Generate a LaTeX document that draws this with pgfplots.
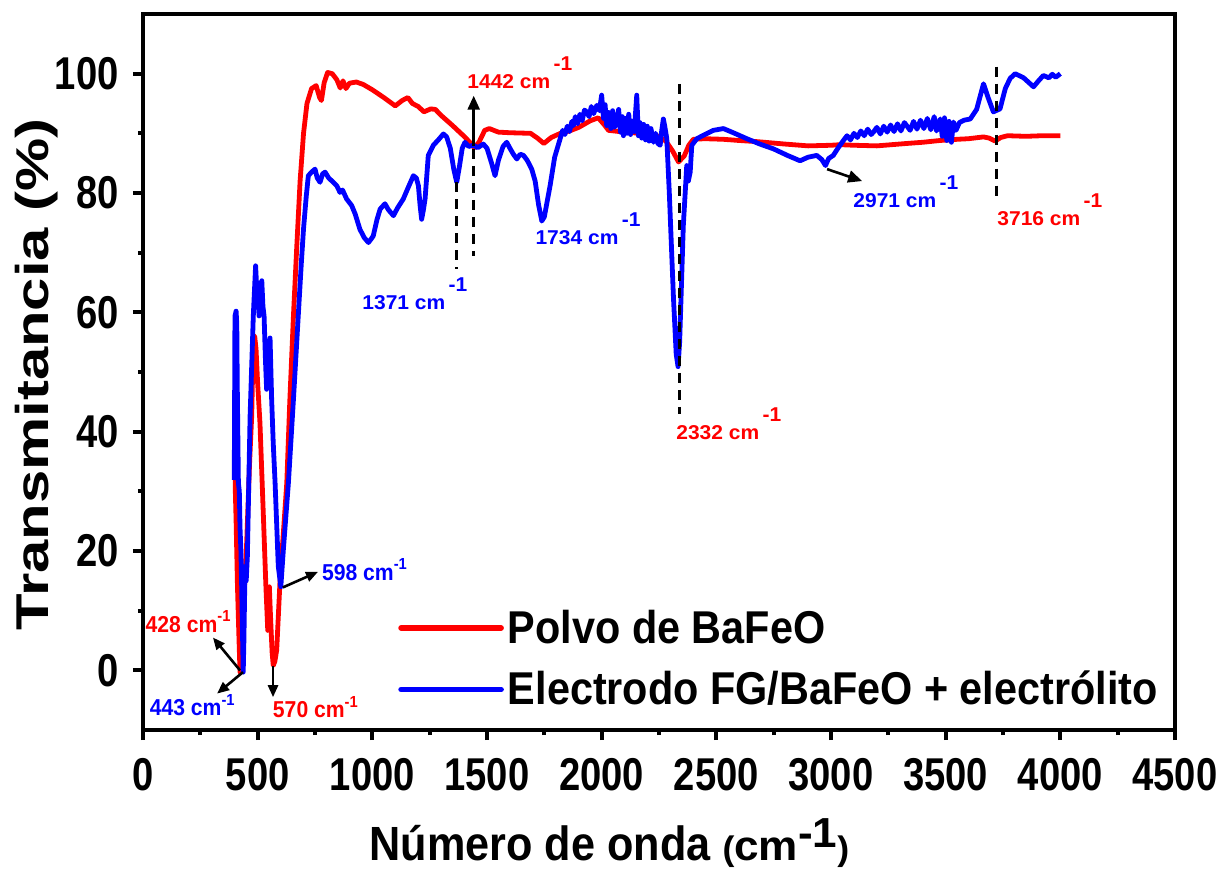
\documentclass[border=0pt]{standalone}
\usepackage{fontspec}
\setmainfont{Liberation Sans}
\newfontfamily\tickf{Liberation Sans}[FakeStretch=0.83]
\newfontfamily\ylabf{Liberation Sans}[FakeStretch=1.3]
\newfontfamily\xlabf{Liberation Sans}[FakeStretch=0.9]
\newfontfamily\xlabw{Liberation Sans}[FakeStretch=1.05]
\newfontfamily\legf{Liberation Sans}[FakeStretch=0.9]
\newfontfamily\annU{Liberation Sans}[FakeStretch=1.05]
\newfontfamily\annL{Liberation Sans}[FakeStretch=0.92]
\usepackage{pgfplots}
\pgfplotsset{compat=1.18}
\usetikzlibrary{arrows.meta}
\definecolor{cred}{RGB}{255,0,0}
\definecolor{cblue}{RGB}{0,0,255}
\newcommand{\tickfont}{\tickf\bfseries\fontsize{23}{23}\selectfont}
\newcommand{\legfont}{\legf\bfseries\fontsize{23}{26}\selectfont}
\newcommand{\wnU}[1]{{\annU\bfseries\fontsize{10}{10}\selectfont #1 cm\,\raisebox{0.9em}{-1}}}
\newcommand{\wnL}[1]{{\annL\bfseries\fontsize{11.5}{11.5}\selectfont #1 cm\raisebox{0.45em}{\fontsize{8}{8}\selectfont -1}}}
\begin{document}
\begin{tikzpicture}
\path[use as bounding box] (-71.5pt,-69pt) rectangle (541pt,365pt);
\begin{axis}[
  at={(0,0)}, anchor=south west,
  scale only axis, width=516pt, height=358pt,
  xmin=0, xmax=4500, ymin=-10, ymax=110,
  xtick={0,500,...,4500}, ytick={0,20,...,100},
  minor xtick={250,750,...,4250}, minor ytick={10,30,...,90},
  tick pos=left, tick align=outside,
  axis line style={line width=2.2pt},
  every tick/.style={line width=2pt, black},
  major tick length=5pt, minor tick length=2.5pt,
  /pgf/number format/assume math mode=true,
  /pgf/number format/1000 sep={},
  ticklabel style={font=\tickfont},
  yticklabel style={anchor=east, inner sep=0pt, xshift=-7pt},
  xticklabel style={anchor=north, inner sep=0pt, yshift=-9pt},
  xlabel={\bfseries{\xlabf\fontsize{24}{24}\selectfont Número de onda }{\xlabw\fontsize{17}{17}\selectfont(}{\xlabw\fontsize{21}{21}\selectfont cm\raisebox{6.5pt}{-1}}{\xlabw\fontsize{17}{17}\selectfont)}},
  xlabel style={at={(axis description cs:0.452,0)}, anchor=base, yshift=-65pt, inner sep=0pt},
  ylabel={\ylabf\bfseries\fontsize{23}{23}\selectfont Transmitancia (\%)},
  ylabel style={at={(axis description cs:-0.092,0.497)}, anchor=base, inner sep=0pt},
  legend style={at={(axis description cs:0.247,0.174)}, anchor=north west, draw=none, fill=none,
    inner sep=0pt, row sep=8.5pt, font=\legfont, /tikz/every even column/.append style={column sep=7pt}},
  legend image code/.code={\draw[#1, line width=2.8pt, line cap=round] (0pt,0pt) -- (50pt,0pt);},
  legend cell align=left,
  clip=false,
]
\addplot[cred, line width=2.4pt, line join=round] coordinates {
(400,42) (402,31) (406,25) (412,14) (418,6) (423,-0.3) (430,3) (440,12) (452,21.3) (465,35)
(474,42.6) (481,55.7) (487,56) (493,53.8) (500,48) (510,41.5) (525,25.8) (536,14) (544,6.7)
(548,11) (551,14) (555,10) (558,7.3) (563,3) (568,0.8) (575,1.5) (583,3.4) (597,14.6) (612,23)
(627,31.4) (640,45) (656,59.4) (670,70.6) (685,82) (700,90) (715,95) (735,97.5) (755,98)
(770,96) (778,95.5) (790,98.5) (805,100.2) (825,100) (845,99) (860,97.6) (872,98.8) (885,97.5)
(900,98.4) (930,98.6) (960,98.2) (1000,97.3) (1050,96) (1100,94.6) (1130,95.5) (1155,96)
(1175,95) (1200,94.5) (1225,93.6) (1255,94.1) (1275,94) (1300,93) (1350,91.3) (1400,89.5)
(1425,88.5) (1445,87.6) (1465,88.5) (1490,90.5) (1510,90.8) (1550,90.2) (1600,90.1) (1690,90)
(1720,89.2) (1748,88.3) (1780,89.3) (1820,90) (1860,90.4) (1900,91) (1950,92.1) (1985,92.6)
(2010,91.5) (2030,90.5) (2100,90.2) (2170,90) (2240,89.6) (2280,88.7) (2310,87) (2335,85.2)
(2360,86.2) (2380,88) (2400,89) (2450,89.1) (2530,89) (2600,88.8) (2680,88.6) (2800,88.2)
(2900,87.9) (3000,88.0) (3040,88.1) (3100,88) (3200,87.9) (3330,88.3) (3400,88.5) (3475,88.8)
(3550,89) (3600,89.1) (3665,89.4) (3690,89.2) (3716,88.7) (3740,89.3) (3770,89.6) (3850,89.5)
(3920,89.6) (4000,89.6)
};
\addlegendentry{Polvo de BaFeO}
\addplot[cblue, line width=2.4pt, line join=round] coordinates {
(398,31.9) (401,59.4) (406,60.2) (409,58) (411,48) (414,38) (416,31.4) (420,30) (423,24) (427,20)
(430,14.6) (434,6) (437,-0.3) (440,5) (445,17.4) (450,15) (455,19) (467,42.6) (481,59.4)
(491,67.8) (496,64) (499,65) (506,59.4) (512,62) (518,65.3) (523,61) (528,59.4) (534,52)
(539,47.1) (547,53.8) (554,55.7) (561,45.4) (568,38) (576,31.4) (590,17.4) (601,14) (612,20.2)
(634,31.4) (656,45.4) (677,59.4) (690,68) (700,74) (712,79.5) (721,82.9) (735,83.5) (750,84)
(760,82.5) (772,81.8) (783,83.2) (794,83.5) (810,82.5) (830,81.8) (845,81.2) (859,80.1)
(870,80.5) (888,79) (900,78.4) (910,77.9) (925,76.5) (946,73.9) (965,72.5) (983,71.7)
(995,72.3) (1004,72.8) (1020,75.5) (1034,77.3) (1055,78.2) (1070,77.2) (1092,76.2) (1110,77.5)
(1135,79) (1155,80.8) (1179,82.9) (1192,82.5) (1201,81.2) (1208,78) (1215,75.6) (1222,77)
(1230,79) (1244,86.3) (1266,88) (1290,89) (1310,89.9) (1324,89.4) (1340,87.5) (1355,84)
(1368,81.8) (1380,84.5) (1392,87.5) (1404,88.5) (1420,87.8) (1441,88) (1460,87.6) (1484,88.2)
(1500,87.5) (1520,85) (1535,82.9) (1550,85.5) (1570,87.8) (1586,88.5) (1600,87.5) (1615,86.5)
(1630,85.7) (1645,86.5) (1659,86.3) (1675,85.5) (1695,84) (1710,82) (1725,78) (1739,75.3)
(1750,76) (1762,78.5) (1775,81.2) (1795,86) (1819,89.1) (1830,90.5) (1840,89.8) (1850,91.2)
(1860,90.3) (1870,92.0) (1877,91.3) (1885,92.8) (1895,91.6) (1905,93.2) (1915,92.1) (1925,93.9)
(1935,93.6) (1945,92.8) (1955,94.5) (1965,93.3) (1979,94.7) (1990,93.8) (2000,96.4) (2008,92.5)
(2015,94.8) (2022,91.3) (2030,93.5) (2040,90.8) (2048,93.8) (2056,91.0) (2066,91.9) (2074,94.0)
(2082,90.2) (2090,92.8) (2095,89.6) (2103,92.5) (2110,90.0) (2118,93.2) (2126,89.8) (2134,92.0)
(2142,90.3) (2153,96.4) (2160,89.6) (2167,91.8) (2175,89.2) (2183,91.5) (2191,88.9) (2199,91.2)
(2207,88.7) (2215,90.8) (2226,88.5) (2235,90.0) (2245,88.3) (2255,88.0) (2262,90.5) (2269,92.4)
(2276,91.0) (2284,89.1) (2295,80) (2313,62.5) (2325,53) (2333,50.9) (2340,55) (2356,74.5)
(2371,84.6) (2378,82) (2386,83.5) (2393,88) (2415,89.1) (2450,89.8) (2487,90.5) (2531,90.8)
(2580,90) (2633,89.1) (2690,88.2) (2749,87.4) (2810,86.3) (2865,85.4) (2900,86) (2938,86.3)
(2960,85.6) (2976,84.6) (2990,85.8) (3010,86.3) (3030,87.5) (3054,88.8) (3070,89.6) (3085,88.9)
(3100,90.0) (3115,89.3) (3130,90.4) (3145,89.6) (3160,90.7) (3175,89.8) (3185,90.2) (3200,91.0)
(3215,89.9) (3230,91.2) (3245,90.2) (3260,91.4) (3275,90.3) (3290,91.6) (3305,90.4) (3320,91.8)
(3330,91.3) (3345,90.5) (3360,92.0) (3375,90.7) (3390,92.2) (3405,90.8) (3420,92.5) (3435,90.6)
(3450,92.8) (3460,90.4) (3476,92.4) (3485,89.5) (3495,92.6) (3505,88.8) (3515,92.0) (3525,88.5)
(3534,91.9) (3545,90.5) (3560,91.8) (3580,92.2) (3607,92.4) (3635,94) (3665,98.3) (3685,96)
(3708,93.6) (3737,94.1) (3760,97.5) (3781,99.2) (3803,100) (3840,99.3) (3883,97.8) (3905,98.8)
(3926,99.7) (3950,99.3) (3965,99.9) (3980,99.4) (4000,100)
};
\addlegendentry{Electrodo FG/BaFeO + electrólito}
% dashed guide lines
\draw[black, line width=1.5pt, dash pattern=on 5pt off 3.5pt] (axis cs:1369,81.8) -- (axis cs:1369,67.2);
\draw[black, line width=1.5pt, dash pattern=on 5pt off 3.5pt] (axis cs:1442,87.4) -- (axis cs:1442,69.4);
\draw[black, line width=1.5pt, dash pattern=on 5pt off 3.5pt] (axis cs:2338,98.3) -- (axis cs:2338,43);
\draw[black, line width=1.5pt, dash pattern=on 5pt off 3.5pt] (axis cs:3722,101.2) -- (axis cs:3722,79.5);
% arrows
\draw[black, line width=1.3pt, -{Triangle[length=7pt,width=6pt]}] (axis cs:1442,87.8) -- (axis cs:1442,96.3);
\draw[black, line width=1.3pt, -{Triangle[length=7pt,width=6pt]}] (axis cs:2983,84.0) -- (axis cs:3136,82.0);
\draw[black, line width=1.3pt, -{Triangle[length=6pt,width=5pt]}] (axis cs:423,0) -- (axis cs:305,5.5);
\draw[black, line width=1.3pt, -{Triangle[length=6pt,width=5pt]}] (axis cs:436,-0.3) -- (axis cs:323,-3.9);
\draw[black, line width=1.3pt, -{Triangle[length=6pt,width=5pt]}] (axis cs:567,0.8) -- (axis cs:567,-4.5);
\draw[black, line width=1.3pt, -{Triangle[length=6pt,width=5pt]}] (axis cs:610,13.9) -- (axis cs:763,16.5);
% labels
\node[anchor=base west, inner sep=0pt, text=cred] at (axis cs:1413,97.5) {\wnU{1442}};
\node[anchor=base west, inner sep=0pt, text=cblue] at (axis cs:955,60.5) {\wnU{1371}};
\node[anchor=base west, inner sep=0pt, text=cblue] at (axis cs:1710,71.4) {\wnU{1734}};
\node[anchor=base west, inner sep=0pt, text=cred] at (axis cs:2324,38.7) {\wnU{2332}};
\node[anchor=base west, inner sep=0pt, text=cblue] at (axis cs:3096,77.6) {\wnU{2971}};
\node[anchor=base west, inner sep=0pt, text=cred] at (axis cs:3724,74.5) {\wnU{3716}};
\node[anchor=base west, inner sep=0pt, text=cred] at (axis cs:10,6.4) {\wnL{428}};
\node[anchor=base west, inner sep=0pt, text=cblue] at (axis cs:28,-7.6) {\wnL{443}};
\node[anchor=base west, inner sep=0pt, text=cred] at (axis cs:565,-7.9) {\wnL{570}};
\node[anchor=base west, inner sep=0pt, text=cblue] at (axis cs:779,15.1) {\wnL{598}};
\end{axis}
\end{tikzpicture}
\end{document}
